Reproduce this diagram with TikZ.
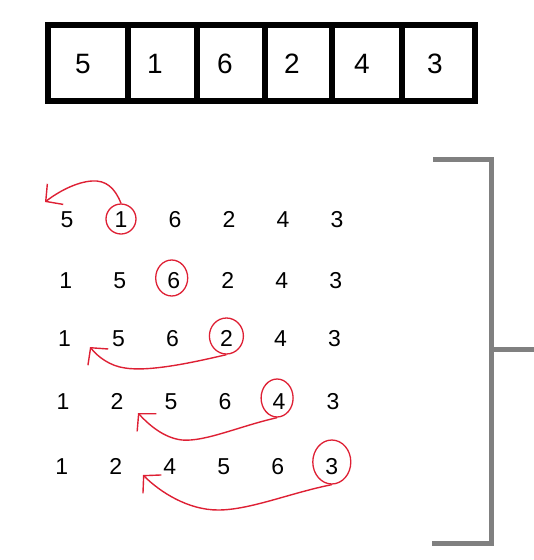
\documentclass[tikz,border=0pt]{standalone}
\usepackage{fontspec}
\setmainfont{Liberation Sans}
\usetikzlibrary{arrows.meta,shapes.geometric}
\definecolor{penred}{RGB}{222,32,52}
\definecolor{barGray}{RGB}{128,128,128}
\tikzset{
  cellnum/.style={font=\fontsize{28}{28}\selectfont, inner sep=0pt, text height=20pt, text depth=0pt},
  rownum/.style={font=\fontsize{23}{23}\selectfont, inner sep=0pt, text height=16.5pt, text depth=0pt},
  pick/.style={draw=penred, line width=1.3pt, ellipse, inner sep=0pt},
  backarrow/.style={draw=penred, line width=1.4pt, -{Straight Barb[length=12pt,width=26pt]}},
}
\begin{document}
\begin{tikzpicture}[x=1pt,y=-1pt]
  \useasboundingbox (0,0) rectangle (534,560);
  % the array
  \draw[line width=6pt] (48,24.5) rectangle (474.5,100.5);
  \foreach \xd in {128,197,265,332,402}
    \draw[line width=5.5pt] (\xd,24.5) -- (\xd,100.5);
  \foreach \d/\xd [count=\i] in {5/83,1/155,6/225,2/292,4/362,3/435}
    \node[cellnum] (a\i) at (\xd,63) {\d};
  % passes
  \foreach \d [count=\c] in {5,1,6,2,4,3}
    \node[rownum] (n1-\c) at ({67+54*(\c-1)},219) {\d};
  \foreach \d [count=\c] in {1,5,6,2,4,3}
    \node[rownum] (n2-\c) at ({67+54*(\c-1)-1.3},280) {\d};
  \foreach \d [count=\c] in {1,5,6,2,4,3}
    \node[rownum] (n3-\c) at ({67+54*(\c-1)-2.6},338) {\d};
  \foreach \d [count=\c] in {1,2,5,6,4,3}
    \node[rownum] (n4-\c) at ({67+54*(\c-1)-3.9},401) {\d};
  \foreach \d [count=\c] in {1,2,4,5,6,3}
    \node[rownum] (n5-\c) at ({67+54*(\c-1)-5.2},466) {\d};
  % picked keys
  \node[pick, minimum width=30pt, minimum height=30pt] (ring1) at (n1-2) {};
  \node[pick, minimum width=32pt, minimum height=36pt] (ring2) at ([shift={(-2,-2)}]n2-3) {};
  \node[pick, minimum width=34pt, minimum height=36pt] (ring3) at ([shift={(0,-2)}]n3-4) {};
  \node[pick, minimum width=32pt, minimum height=38pt] (ring4) at ([shift={(-2,-3)}]n4-5) {};
  \node[pick, minimum width=38pt, minimum height=44pt] (ring5) at ([shift={(0,-4)}]n5-6) {};
  % moves
  \coordinate (t1) at (45,202);
  \coordinate (t3) at (90,347);
  \coordinate (t4) at (138,413);
  \coordinate (t5) at (143,475);
  \draw[backarrow] (ring1.north) .. controls (115,188) and (106,180) .. (92,181)
    .. controls (76,182) and (58,192) .. (t1);
  \draw[backarrow] (ring3.south) .. controls (195,362) and (150,372) .. (125,368)
    .. controls (110,366) and (98,357) .. (t3);
  \draw[backarrow] (ring4.south) .. controls (240,426) and (205,442) .. (182,440)
    .. controls (164,438) and (149,425) .. (t4);
  \draw[backarrow] (ring5.south) .. controls (290,493) and (250,510) .. (218,510)
    .. controls (188,510) and (160,492) .. (t5);
  % bracket
  \draw[barGray, line width=5pt] (433,159) -- (491,159) -- (491,543) -- (432,543);
  \draw[barGray, line width=5pt] (491,349) -- (534,349);
\end{tikzpicture}
\end{document}
